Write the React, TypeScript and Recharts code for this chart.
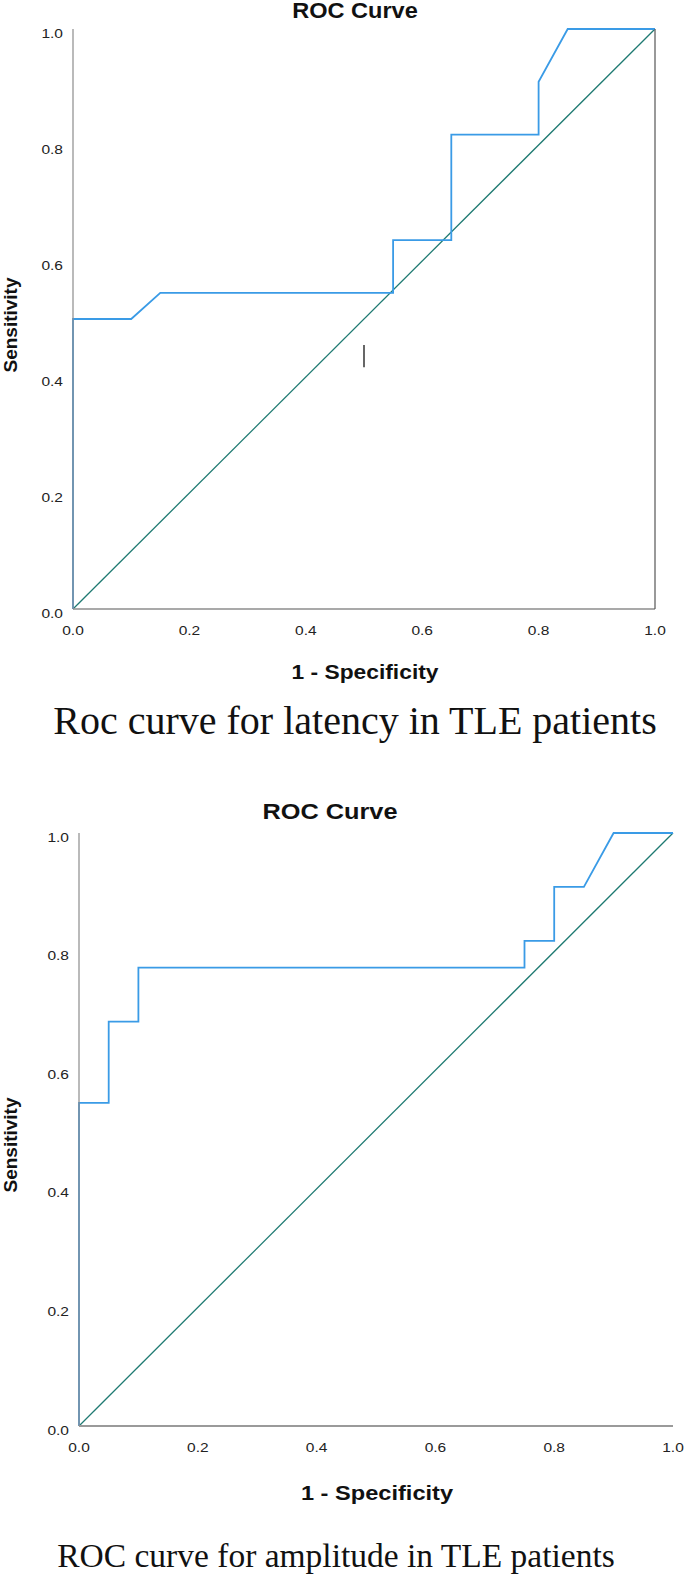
import React from 'react';
import { LineChart, Line, XAxis, YAxis, ReferenceLine } from 'recharts';

// tick values shared by both plots
const axisTicks = [0, 0.2, 0.4, 0.6, 0.8, 1];

// ROC for latency
const latencyFpr = [0, 0, 0.1, 0.15, 0.55, 0.55, 0.65, 0.65, 0.8, 0.8, 0.85, 1];
const latencyTpr = [0, 0.5, 0.5, 0.545, 0.545, 0.636, 0.636, 0.818, 0.818, 0.909, 1, 1];

// ROC for amplitude
const amplitudeFpr = [0, 0, 0.05, 0.05, 0.1, 0.1, 0.75, 0.75, 0.8, 0.8, 0.85, 0.9, 1];
const amplitudeTpr = [0, 0.545, 0.545, 0.682, 0.682, 0.773, 0.773, 0.818, 0.818, 0.909, 0.909, 1, 1];

// reference (chance) line
const diagonalX = [0, 1];
const diagonalY = [0, 1];

// stray mark in the first plot
const markX = [0.5, 0.5];
const markY = [0.417, 0.455];

const zip = (xs: number[], ys: number[]) => xs.map((x, i) => ({ x, y: ys[i] }));

const SANS = '"Liberation Sans", Arial, sans-serif';
const SERIF = '"Liberation Serif", "Times New Roman", serif';
const CURVE = '#3a9be6';
const DIAG = '#1f7a72';
const AXIS = '#8c8c8c';

const fmt = (v: number) => v.toFixed(1);

// SPSS output is a bit stretched sideways, so the tick text is widened a touch
const tickText = (x: number, y: number, anchor: string, label: string) => (
  <text
    transform={`translate(${x},${y}) scale(1.15,1)`}
    textAnchor={anchor}
    dominantBaseline="central"
    fontSize={13.5}
    fill="#222"
    fontFamily={SANS}
  >
    {label}
  </text>
);

const LeftTick = ({ x, y, payload }: any) => tickText(x, y + 4, 'end', fmt(payload.value));
const RightTick = ({ x, y, payload }: any) => tickText(x, y + 4, 'start', fmt(payload.value));
const BottomTick = ({ x, y, payload }: any) => tickText(x, y + 19, 'middle', fmt(payload.value));

const textBase: React.CSSProperties = { position: 'absolute', whiteSpace: 'nowrap', lineHeight: 1, color: '#111' };

function Centered({ x, y, size, bold, serif, stretch = 1, children }: any) {
  return (
    <div
      style={{
        ...textBase,
        left: x,
        top: y,
        transform: `translate(-50%, -50%) scaleX(${stretch})`,
        fontSize: size,
        fontWeight: bold ? 700 : 400,
        fontFamily: serif ? SERIF : SANS,
      }}
    >
      {children}
    </div>
  );
}

function VerticalLabel({ x, y, children }: any) {
  return (
    <div
      style={{
        ...textBase,
        left: x,
        top: y,
        transform: 'translate(-50%, -50%) rotate(-90deg)',
        fontSize: 19,
        fontWeight: 700,
        fontFamily: SANS,
      }}
    >
      {children}
    </div>
  );
}

export default function App() {
  return (
    <div style={{ position: 'absolute', left: 0, top: 0, width: 685, height: 1575, background: '#fff' }}>
      {/* first plot */}
      <div style={{ position: 'absolute', left: 0, top: 0 }}>
        <LineChart width={685} height={640} margin={{ top: 29, right: 0, bottom: 0, left: 13 }}>
          <XAxis
            dataKey="x"
            type="number"
            domain={[0, 1]}
            ticks={axisTicks}
            height={31}
            tick={BottomTick}
            tickLine={false}
            tickSize={0}
            axisLine={{ stroke: AXIS, strokeWidth: 1.5 }}
            allowDuplicatedCategory={false}
          />
          <YAxis
            yAxisId="l"
            type="number"
            domain={[0, 1]}
            ticks={axisTicks}
            width={60}
            tick={LeftTick}
            tickLine={false}
            tickSize={0}
            tickMargin={10}
            axisLine={{ stroke: AXIS, strokeWidth: 1.2 }}
          />
          <YAxis
            yAxisId="r"
            orientation="right"
            type="number"
            domain={[0, 1]}
            ticks={axisTicks}
            width={30}
            tick={RightTick}
            tickLine={false}
            tickSize={0}
            tickMargin={8}
            axisLine={{ stroke: '#555', strokeWidth: 1.2 }}
          />
          <Line
            yAxisId="l"
            data={zip(diagonalX, diagonalY)}
            dataKey="y"
            type="linear"
            stroke={DIAG}
            strokeWidth={1.3}
            dot={false}
            isAnimationActive={false}
          />
          <Line
            yAxisId="l"
            data={zip(latencyFpr, latencyTpr)}
            dataKey="y"
            type="linear"
            stroke={CURVE}
            strokeWidth={1.8}
            dot={false}
            isAnimationActive={false}
          />
          <ReferenceLine
            yAxisId="l"
            segment={zip(markX, markY)}
            stroke="#000"
            strokeWidth={1.2}
          />
        </LineChart>
      </div>
      <Centered x={355} y={11} size={22} bold stretch={1.07}>ROC Curve</Centered>
      <VerticalLabel x={10} y={325}>Sensitivity</VerticalLabel>
      <Centered x={365} y={672} size={20} bold stretch={1.14}>1 - Specificity</Centered>
      <Centered x={355} y={721} size={40} serif>Roc curve for latency in TLE patients</Centered>

      {/* second plot */}
      <div style={{ position: 'absolute', left: 0, top: 800 }}>
        <LineChart width={685} height={657} margin={{ top: 33, right: 12, bottom: 0, left: 19 }}>
          <XAxis
            dataKey="x"
            type="number"
            domain={[0, 1]}
            ticks={axisTicks}
            height={31}
            tick={BottomTick}
            tickLine={false}
            tickSize={0}
            axisLine={{ stroke: '#9a9a9a', strokeWidth: 2.2 }}
            allowDuplicatedCategory={false}
          />
          <YAxis
            type="number"
            domain={[0, 1]}
            ticks={axisTicks}
            width={60}
            tick={LeftTick}
            tickLine={false}
            tickSize={0}
            tickMargin={10}
            axisLine={{ stroke: AXIS, strokeWidth: 1.2 }}
          />
          <Line
            data={zip(diagonalX, diagonalY)}
            dataKey="y"
            type="linear"
            stroke={DIAG}
            strokeWidth={1.3}
            dot={false}
            isAnimationActive={false}
          />
          <Line
            data={zip(amplitudeFpr, amplitudeTpr)}
            dataKey="y"
            type="linear"
            stroke={CURVE}
            strokeWidth={1.8}
            dot={false}
            isAnimationActive={false}
          />
        </LineChart>
      </div>
      <Centered x={330} y={812} size={22} bold stretch={1.15}>ROC Curve</Centered>
      <VerticalLabel x={10} y={1145}>Sensitivity</VerticalLabel>
      <Centered x={377} y={1493} size={20} bold stretch={1.18}>1 - Specificity</Centered>
      <Centered x={336} y={1556} size={33.5} serif>ROC curve for amplitude in TLE patients</Centered>
    </div>
  );
}
